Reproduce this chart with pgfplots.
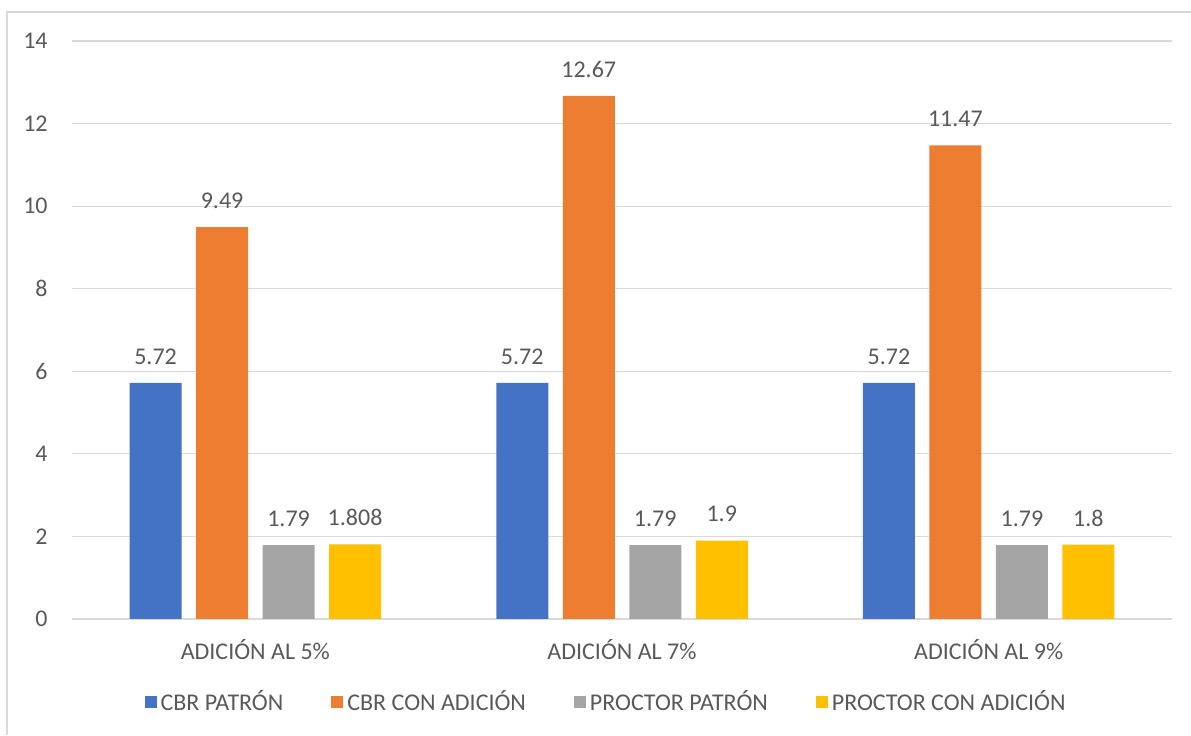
\documentclass[border=0pt]{standalone}
\usepackage{pgfplots}
\pgfplotsset{compat=1.18}
\usepackage{fontspec}
\setmainfont{Carlito}
\definecolor{sBlue}{HTML}{4472C4}
\definecolor{sOrange}{HTML}{ED7D31}
\definecolor{sGray}{HTML}{A5A5A5}
\definecolor{sYellow}{HTML}{FFC000}
\definecolor{gridc}{HTML}{D9D9D9}
\definecolor{txt}{HTML}{595959}
\begin{document}
\begin{tikzpicture}
\path[use as bounding box] (0,0) rectangle (595.5pt,367.5pt);
\draw[gridc, line width=0.6pt] (3.5pt,0) -- (3.5pt,361.5pt) -- (595.5pt,361.5pt);
\begin{axis}[
  at={(36pt,58pt)}, anchor=south west,
  scale only axis, width=550pt, height=289pt,
  ybar=7.25pt, bar width=26pt,
  xmin=-0.5, xmax=2.5, ymin=0, ymax=14,
  xtick={0,1,2},
  xticklabels={ADICIÓN AL 5\%, ADICIÓN AL 7\%, ADICIÓN AL 9\%},
  ytick={0,2,...,14},
  axis line style={draw=none},
  major tick length=0pt,
  ymajorgrids, grid style={gridc, line width=0.6pt},
  tick label style={font=\fontsize{12}{14}\selectfont, text=txt},
  /pgf/number format/assume math mode=true,
  yticklabel style={anchor=east, inner sep=0pt, xshift=-12pt},
  xticklabel style={anchor=north, inner sep=0pt, yshift=-10pt},
  nodes near coords,
  /pgf/number format/precision=3,
  every node near coord/.append style={font=\fontsize{12}{14}\selectfont, text=txt, anchor=south, inner sep=0pt, yshift=9pt},
  legend columns=4,
  legend style={at={(0.4864,-0.1436)}, anchor=center, draw=none, fill=none,
    font=\fontsize{12}{14}\selectfont, text=txt,
    /tikz/every even column/.append style={column sep=22pt}},
  legend image code/.code={\fill[#1] (0pt,-3pt) rectangle (6pt,3pt);},
  legend cell align=left,
]
\addplot[fill=sBlue, draw=none] coordinates {(0,5.72) (1,5.72) (2,5.72)};
\addplot[fill=sOrange, draw=none] coordinates {(0,9.49) (1,12.67) (2,11.47)};
\addplot[fill=sGray, draw=none] coordinates {(0,1.79) (1,1.79) (2,1.79)};
\addplot[fill=sYellow, draw=none] coordinates {(0,1.808) (1,1.9) (2,1.8)};
\legend{CBR PATRÓN, CBR CON ADICIÓN, PROCTOR PATRÓN, PROCTOR CON ADICIÓN}
\end{axis}
\end{tikzpicture}
\end{document}
